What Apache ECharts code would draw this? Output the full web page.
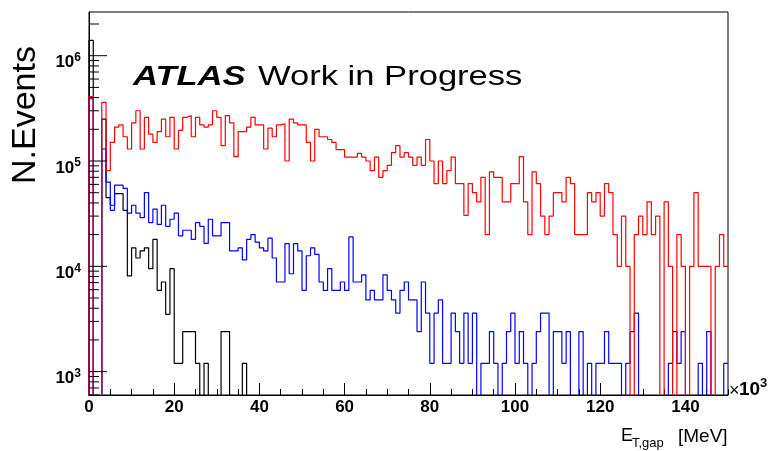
<!DOCTYPE html>
<html>
<head>
<meta charset="utf-8">
<script src="https://cdn.jsdelivr.net/npm/echarts@6.0.0/dist/echarts.min.js"></script>
<style>
  html, body { margin: 0; padding: 0; background: #fff; }
  #chart { width: 773px; height: 451px; }
</style>
</head>
<body>
<div id="chart"></div>
<script>
// bin width is 1 (x10^3 MeV), 150 bins from 0 to 150; 0 = empty bin
const binEdgesMax = 150

const redCounts = [
  4.1e5, 0, 0, 3.6e5, 8.1e4, 1.5e5, 2.1e5, 2.2e5, 1.7e5, 1.3e5,
  2.3e5, 3.0e5, 1.3e5, 2.6e5, 1.8e5, 1.5e5, 1.9e5, 2.5e5, 1.7e5, 2.6e5,
  1.3e5, 1.95e5, 2.6e5, 2.7e5, 1.7e5, 2.6e5, 2.2e5, 2.1e5, 2.2e5, 3.0e5,
  2.6e5, 1.4e5, 2.7e5, 2.3e5, 1.1e5, 1.9e5, 1.9e5, 2.1e5, 2.6e5, 2.2e5,
  2.2e5, 1.3e5, 2.05e5, 1.7e5, 2.2e5, 2.25e5, 1.0e5, 2.5e5, 2.3e5, 2.2e5,
  2.2e5, 1.5e5, 1.0e5, 2.0e5, 1.7e5, 1.7e5, 1.6e5, 1.5e5, 1.28e5, 1.28e5,
  1.09e5, 1.09e5, 1.09e5, 1.18e5, 1.09e5, 1.0e5, 8.1e4, 1.09e5, 7.0e4, 8.1e4,
  9.1e4, 1.2e5, 1.4e5, 1.09e5, 1.2e5, 1.09e5, 9.1e4, 1.09e5, 9.1e4, 1.6e5,
  1.0e5, 6.1e4, 1.0e5, 6.1e4, 8.1e4, 1.09e5, 6.1e4, 6.1e4, 3.05e4, 6.1e4,
  5.0e4, 4.1e4, 7.0e4, 2.0e4, 7.9e4, 7.0e4, 7.0e4, 4.1e4, 4.1e4, 6.1e4,
  6.1e4, 1.1e5, 4.1e4, 2.0e4, 7.9e4, 6.1e4, 3.0e4, 2.0e4, 3.0e4, 5.0e4,
  5.0e4, 4.1e4, 7.0e4, 6.1e4, 2.0e4, 2.0e4, 2.0e4, 5.0e4, 4.1e4, 5.0e4,
  3.0e4, 6.1e4, 5.0e4, 2.0e4, 1.0e4, 3.0e4, 1.0e4, 0, 2.0e4, 3.0e4,
  2.0e4, 4.1e4, 2.0e4, 3.0e4, 0, 4.1e4, 1.0e4, 0, 2.0e4, 1.0e4,
  0, 1.0e4, 5.0e4, 1.0e4, 1.0e4, 1.0e4, 0, 1.0e4, 2.0e4, 1.0e4
]

const blueCounts = [
  3.9e5, 0, 0, 1.3e5, 6.3e4, 3.4e4, 5.9e4, 5.9e4, 5.5e4, 3.2e4,
  3.8e4, 3.2e4, 2.9e4, 5.0e4, 2.6e4, 3.5e4, 2.5e4, 3.8e4, 2.4e4, 2.8e4,
  3.2e4, 1.95e4, 2.2e4, 2.2e4, 1.8e4, 2.6e4, 2.4e4, 1.65e4, 2.8e4, 1.95e4,
  1.95e4, 2.6e4, 2.6e4, 1.4e4, 1.4e4, 1.5e4, 1.15e4, 1.8e4, 2.0e4, 1.7e4,
  1.5e4, 1.4e4, 1.85e4, 1.2e4, 7.1e3, 7.1e3, 1.64e4, 8.5e3, 1.64e4, 1.4e4,
  5.9e3, 1.26e4, 1.5e4, 1.3e4, 7.1e3, 5.9e3, 9.5e3, 5.9e3, 5.9e3, 7.1e3,
  5.9e3, 1.9e4, 7.1e3, 7.1e3, 8.3e3, 4.8e3, 5.9e3, 4.8e3, 4.8e3, 8.3e3,
  5.9e3, 4.8e3, 3.6e3, 5.9e3, 7.1e3, 4.8e3, 4.8e3, 2.4e3, 7.1e3, 3.6e3,
  1.2e3, 3.6e3, 4.8e3, 1.2e3, 1.2e3, 3.6e3, 2.4e3, 1.2e3, 3.6e3, 1.2e3,
  3.6e3, 0, 1.2e3, 1.2e3, 2.4e3, 1.2e3, 0, 1.2e3, 2.4e3, 3.6e3,
  1.2e3, 2.4e3, 1.2e3, 0, 1.2e3, 2.4e3, 3.6e3, 3.6e3, 0, 2.4e3,
  2.4e3, 1.2e3, 2.4e3, 0, 0, 2.4e3, 0, 1.2e3, 0, 1.2e3,
  1.2e3, 2.4e3, 1.2e3, 1.2e3, 1.2e3, 0, 1.2e3, 2.4e3, 3.6e3, 0,
  0, 0, 0, 0, 0, 0, 1.2e3, 2.4e3, 1.2e3, 2.4e3,
  0, 0, 0, 1.2e3, 0, 2.4e3, 0, 0, 0, 1.2e3
]

const blackCounts = [
  1.4e6, 0, 0, 2.5e5, 4.5e4, 3.8e4, 4.9e4, 4.9e4, 3.4e4, 8.1e3,
  1.5e4, 1.2e4, 1.4e4, 1.5e4, 9.5e3, 1.8e4, 5.9e3, 7.1e3, 3.5e3, 9.5e3,
  1.2e3, 1.2e3, 2.4e3, 2.4e3, 2.4e3, 1.2e3, 0, 1.2e3, 0, 0,
  0, 2.4e3, 2.4e3, 0, 0, 0, 1.2e3, 0, 0, 0,
  0, 0, 0, 0, 0, 0, 0, 0, 0, 0,
  0, 0, 0, 0, 0, 0, 0, 0, 0, 0,
  0, 0, 0, 0, 0, 0, 0, 0, 0, 0,
  0, 0, 0, 0, 0, 0, 0, 0, 0, 0,
  0, 0, 0, 0, 0, 0, 0, 0, 0, 0,
  0, 0, 0, 0, 0, 0, 0, 0, 0, 0,
  0, 0, 0, 0, 0, 0, 0, 0, 0, 0,
  0, 0, 0, 0, 0, 0, 0, 0, 0, 0,
  0, 0, 0, 0, 0, 0, 0, 0, 0, 0,
  0, 0, 0, 0, 0, 0, 0, 0, 0, 0,
  0, 0, 0, 0, 0, 0, 0, 0, 0, 0
]

const xLabelStep = 20
const xMinorStep = 5
const yMin = 600
const yMax = 2.6e6
const yLabelPowers = [3, 4, 5, 6]
const yTickMantissas = [1, 2, 3, 4, 5, 6, 7, 8, 9]
const yTickDecades = [2, 3, 4, 5, 6]

const FONT = '"Liberation Sans", Arial, Helvetica, sans-serif'
const EMPTY = 1 // below the axis minimum, clipped away like ROOT's empty bins

const histData = (counts) => {
  const pts = [[0, EMPTY]]
  counts.forEach((c, i) => pts.push([i, c > 0 ? c : EMPTY]))
  const last = counts[counts.length - 1]
  pts.push([counts.length, last > 0 ? last : EMPTY])
  return pts
}

const yTicks = []
yTickDecades.forEach(d => {
  yTickMantissas.forEach(m => {
    const v = m * Math.pow(10, d)
    if (v >= yMin && v <= yMax) yTicks.push([0, v, m === 1 ? 18 : 10])
  })
})

const chart = echarts.init(document.getElementById('chart'))

const histSeries = (counts, color, z) => ({
  type: 'line',
  step: 'end',
  data: histData(counts),
  symbol: 'none',
  clip: true,
  z: z,
  lineStyle: { color: color, width: 1.2 },
  itemStyle: { color: color }
})

const option = {
  animation: false,
  backgroundColor: '#fff',
  grid: {
    left: 89,
    right: 45,
    top: 12,
    bottom: 56,
    show: true,
    borderColor: '#000',
    borderWidth: 1,
    backgroundColor: 'transparent'
  },
  xAxis: [{
    type: 'value',
    min: 0,
    max: binEdgesMax,
    interval: xLabelStep,
    axisLine: { show: true, onZero: false, lineStyle: { color: '#000', width: 1 } },
    axisTick: { show: true, inside: true, length: 12, lineStyle: { color: '#000' } },
    axisLabel: {
      color: '#000',
      fontFamily: FONT,
      fontWeight: 'bold',
      fontSize: 17,
      margin: 4,
      showMaxLabel: false
    },
    splitLine: { show: false }
  }, {
    type: 'value',
    position: 'bottom',
    min: 0,
    max: binEdgesMax,
    interval: xMinorStep,
    axisLine: { show: false },
    axisTick: { show: true, inside: true, length: 6, lineStyle: { color: '#000' } },
    axisLabel: { show: false },
    splitLine: { show: false }
  }],
  yAxis: {
    type: 'log',
    logBase: 10,
    min: yMin,
    max: yMax,
    axisLine: { show: true, onZero: false, lineStyle: { color: '#000', width: 1 } },
    axisTick: { show: false },
    splitLine: { show: false },
    axisLabel: {
      margin: 8,
      padding: [14, 0, 0, 0],
      formatter: (v) => {
        const e = Math.log10(v)
        const r = Math.round(e)
        if (Math.abs(e - r) > 1e-6 || yLabelPowers.indexOf(r) < 0) return ''
        return '{b|10}{s|' + r + '}'
      },
      rich: {
        b: { fontFamily: FONT, fontWeight: 'bold', fontSize: 17, color: '#000', lineHeight: 22 },
        s: { fontFamily: FONT, fontWeight: 'bold', fontSize: 12, color: '#000', lineHeight: 12, verticalAlign: 'top' }
      }
    }
  },
  series: [
    histSeries(blackCounts, '#000000', 2),
    histSeries(blueCounts, '#0000ff', 3),
    histSeries(redCounts, '#ff0000', 4),
    {
      type: 'custom',
      data: yTicks,
      encode: { x: 0, y: 1 },
      z: 5,
      silent: true,
      renderItem: (params, api) => {
        const p = api.coord([0, api.value(1)])
        const len = api.value(2)
        return {
          type: 'line',
          shape: { x1: p[0], y1: p[1], x2: p[0] + len, y2: p[1] },
          style: { stroke: '#000', lineWidth: 1 }
        }
      }
    }
  ],
  graphic: [
    {
      type: 'text', x: 26, y: 115, rotation: Math.PI / 2,
      style: { text: 'N.Events', fill: '#000', font: '34px ' + FONT, textAlign: 'center', textVerticalAlign: 'middle' }
    },
    {
      type: 'text', x: 133, y: 77.5, scaleX: 1.28,
      style: { text: 'ATLAS', fill: '#000', font: 'italic bold 27px ' + FONT, textAlign: 'left', textVerticalAlign: 'middle' }
    },
    {
      type: 'text', x: 258, y: 77.5, scaleX: 1.28,
      style: { text: 'Work in Progress', fill: '#000', font: '27px ' + FONT, textAlign: 'left', textVerticalAlign: 'middle' }
    },
    {
      type: 'text', x: 729, y: 391,
      style: { text: '\u00d7', fill: '#000', font: '18px ' + FONT, textAlign: 'left', textVerticalAlign: 'middle' }
    },
    {
      type: 'text', x: 739, y: 390,
      style: { text: '10', fill: '#000', font: 'bold 19px ' + FONT, textAlign: 'left', textVerticalAlign: 'middle' }
    },
    {
      type: 'text', x: 760, y: 383,
      style: { text: '3', fill: '#000', font: 'bold 13px ' + FONT, textAlign: 'left', textVerticalAlign: 'middle' }
    },
    {
      type: 'text', x: 621, y: 436,
      style: { text: 'E', fill: '#000', font: '18px ' + FONT, textAlign: 'left', textVerticalAlign: 'middle' }
    },
    {
      type: 'text', x: 632, y: 443,
      style: { text: 'T,gap', fill: '#000', font: '13px ' + FONT, textAlign: 'left', textVerticalAlign: 'middle' }
    },
    {
      type: 'text', x: 678, y: 437,
      style: { text: '[MeV]', fill: '#000', font: '19px ' + FONT, textAlign: 'left', textVerticalAlign: 'middle' }
    }
  ]
}

chart.setOption(option)
</script>
</body>
</html>
